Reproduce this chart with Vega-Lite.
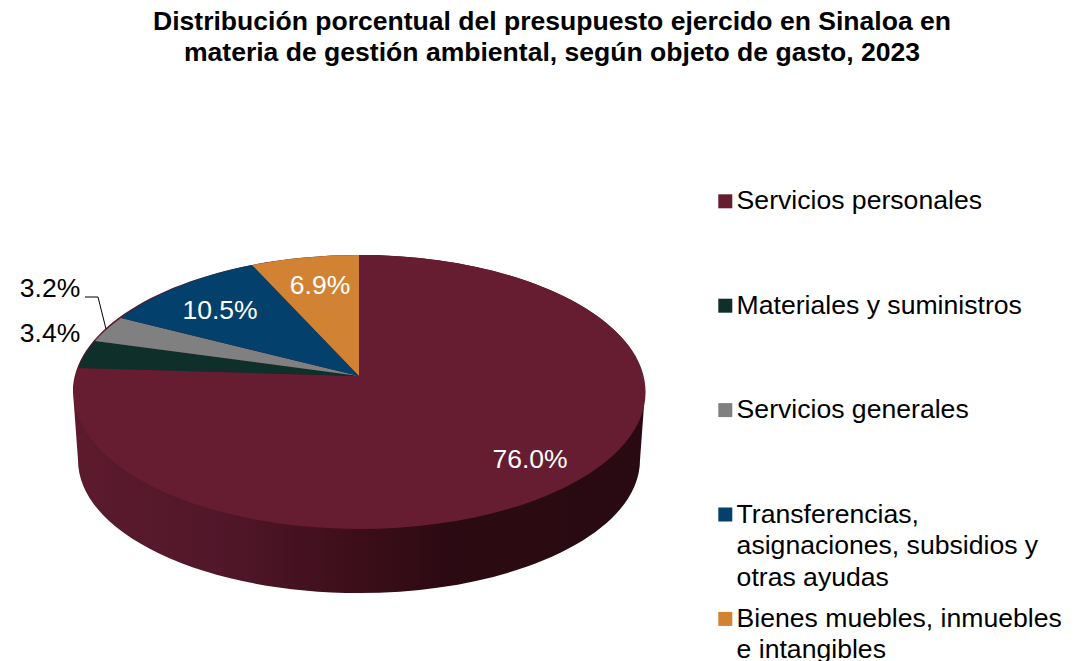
{
"$schema":"https://vega.github.io/schema/vega-lite/v6.json",
"width":1086,"height":581,
"autosize":"none",
"padding":{"top":80,"left":0,"right":0,"bottom":0},
"background":"white",
"config":{"view":{"stroke":null},"font":"Liberation Sans","axis":{"disable":true},"style":{"guide-label":{"lineHeight":31.5}}},
"title":{"text":["Distribución porcentual del presupuesto ejercido en Sinaloa en","materia de gestión ambiental, según objeto de gasto, 2023"],"font":"Liberation Sans","fontSize":26.55,"fontWeight":"bold","color":"#000000","anchor":"middle","frame":"group","dx":9,"offset":13,"lineHeight":31},
"data":{"values":[
{"categoria":"Servicios personales","valor":0.760},
{"categoria":"Materiales y suministros","valor":0.034},
{"categoria":"Servicios generales","valor":0.032},
{"categoria":"Transferencias, asignaciones, subsidios y otras ayudas","valor":0.105},
{"categoria":"Bienes muebles, inmuebles e intangibles","valor":0.069}
]},
"layer":[
{"transform":[{"filter":"datum.categoria=='Servicios personales'"}],
 "mark":{"type":"point","filled":true,"opacity":1,"size":4,"shape":"M-286 16 L-281 84 A281 133 0 0 0 281 84 L286 16 A286 137 0 0 0 -286 16 Z","fill":{"gradient":"linear","x1":0,"y1":0,"x2":1,"y2":0,"stops":[{"offset":0,"color":"#5c1a2d"},{"offset":0.25,"color":"#52172a"},{"offset":0.5,"color":"#3c0e1a"},{"offset":0.65,"color":"#2c0a13"},{"offset":1,"color":"#2a0a12"}]}},
 "encoding":{"x":{"datum":359,"type":"quantitative","scale":{"domain":[0,1086]}},"y":{"datum":376,"type":"quantitative","scale":{"domain":[661,80]}}}},
{"mark":{"type":"point","filled":true,"opacity":1,"size":4},
 "encoding":{"x":{"datum":359,"type":"quantitative","scale":{"domain":[0,1086]}},"y":{"datum":376,"type":"quantitative","scale":{"domain":[661,80]}},
  "color":{"field":"categoria","type":"nominal","sort":null,
    "scale":{"domain":["Servicios personales","Materiales y suministros","Servicios generales","Transferencias, asignaciones, subsidios y otras ayudas","Bienes muebles, inmuebles e intangibles"],"range":["#661c31","#0f2f2a","#808080","#03406b","#d18233"]},
    "legend":{"title":null,"orient":"none","legendX":712,"legendY":108,"symbolType":"square","symbolSize":196,"symbolStrokeWidth":0,"labelFont":"Liberation Sans","labelFontSize":26.6,"labelColor":"#000000","labelLimit":500,"labelOffset":-2,"gridAlign":"all","rowPadding":14.4,"direction":"vertical","columns":1,
     "labelExpr":"datum.label=='Transferencias, asignaciones, subsidios y otras ayudas'?['Transferencias,','asignaciones, subsidios y','otras ayudas']:datum.label=='Bienes muebles, inmuebles e intangibles'?['Bienes muebles, inmuebles','e intangibles']:datum.label"}},
  "shape":{"field":"valor","type":"nominal","sort":null,"legend":null,
    "scale":{"domain":[0.76,0.034,0.032,0.105,0.069],
    "range":["M0 0 L0 -121 A286 137 0 1 1 -281 -8 Z","M0 0 L-281 -8 A286 137 0 0 1 -264 -35 Z","M0 0 L-264 -35 A286 137 0 0 1 -238 -58 Z","M0 0 L-238 -58 A286 137 0 0 1 -107 -111 Z","M0 0 L-107 -111 A286 137 0 0 1 0 -121 Z"]}}}},
{"transform":[{"filter":"datum.categoria=='Servicios generales'"}],
 "mark":{"type":"point","filled":false,"opacity":1,"size":4,"stroke":"#000000","strokeWidth":1,"fill":null,"shape":"M0 0 L13 0 L21 32"},
 "encoding":{"x":{"datum":85,"type":"quantitative","scale":{"domain":[0,1086]}},"y":{"datum":297,"type":"quantitative","scale":{"domain":[661,80]}}}},
{"transform":[{"filter":"datum.categoria=='Servicios personales'"}],
 "mark":{"type":"text","fontSize":26.5,"color":"#ffffff","font":"Liberation Sans"},
 "encoding":{"text":{"field":"valor","type":"quantitative","format":".1%"},"x":{"datum":530,"type":"quantitative","scale":{"domain":[0,1086]}},"y":{"datum":460,"type":"quantitative","scale":{"domain":[661,80]}}}},
{"transform":[{"filter":"datum.categoria=='Materiales y suministros'"}],
 "mark":{"type":"text","fontSize":26.5,"color":"#000000","font":"Liberation Sans"},
 "encoding":{"text":{"field":"valor","type":"quantitative","format":".1%"},"x":{"datum":50,"type":"quantitative","scale":{"domain":[0,1086]}},"y":{"datum":334,"type":"quantitative","scale":{"domain":[661,80]}}}},
{"transform":[{"filter":"datum.categoria=='Servicios generales'"}],
 "mark":{"type":"text","fontSize":26.5,"color":"#000000","font":"Liberation Sans"},
 "encoding":{"text":{"field":"valor","type":"quantitative","format":".1%"},"x":{"datum":50,"type":"quantitative","scale":{"domain":[0,1086]}},"y":{"datum":289,"type":"quantitative","scale":{"domain":[661,80]}}}},
{"transform":[{"filter":"datum.categoria=='Transferencias, asignaciones, subsidios y otras ayudas'"}],
 "mark":{"type":"text","fontSize":26.5,"color":"#ffffff","font":"Liberation Sans"},
 "encoding":{"text":{"field":"valor","type":"quantitative","format":".1%"},"x":{"datum":220,"type":"quantitative","scale":{"domain":[0,1086]}},"y":{"datum":311,"type":"quantitative","scale":{"domain":[661,80]}}}},
{"transform":[{"filter":"datum.categoria=='Bienes muebles, inmuebles e intangibles'"}],
 "mark":{"type":"text","fontSize":26.5,"color":"#ffffff","font":"Liberation Sans"},
 "encoding":{"text":{"field":"valor","type":"quantitative","format":".1%"},"x":{"datum":320,"type":"quantitative","scale":{"domain":[0,1086]}},"y":{"datum":286,"type":"quantitative","scale":{"domain":[661,80]}}}}
]
}
